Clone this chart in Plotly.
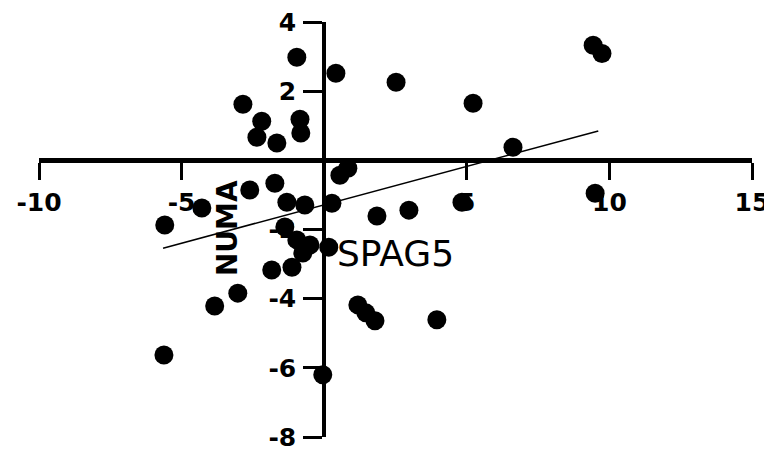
import plotly.graph_objects as go

# SPAG5 (x) vs NUMA (y) values
spag5 = [-0.96, 0.41, -2.85, -2.19, -0.85, -2.36, -1.66, -0.82, 2.52, 5.22,
         9.43, 9.74, 6.62, 4.83, 9.50, 2.97, 1.85, 0.83, 0.55, 0.27,
         -5.59, -4.29, -2.61, -1.73, -1.31, -0.68, -1.38, -0.96, -0.50, -0.75,
         0.16, -1.13, -1.84, -3.03, -3.84, -5.62, -0.05, 1.18, 1.46, 1.78, 3.95]
numa = [2.98, 2.52, 1.62, 1.13, 1.19, 0.67, 0.50, 0.79, 2.26, 1.65,
        3.33, 3.09, 0.38, -1.21, -0.95, -1.44, -1.61, -0.23, -0.43, -1.24,
        -1.87, -1.38, -0.86, -0.66, -1.21, -1.29, -1.93, -2.30, -2.45, -2.68,
        -2.51, -3.09, -3.17, -3.84, -4.21, -5.63, -6.20, -4.18, -4.41, -4.64, -4.61]

# regression line end points
fit_x = [-5.65, 9.61]
fit_y = [-2.54, 0.85]

x_ticks = [-10, -5, 5, 10, 15]
y_ticks = [-8, -6, -4, -2, 2, 4]
x_range = [-10, 15]
y_range = [-8, 4]

fig = go.Figure()
fig.add_trace(go.Scatter(x=fit_x, y=fit_y, mode="lines",
                         line=dict(color="black", width=1.5), showlegend=False))
fig.add_trace(go.Scatter(x=spag5, y=numa, mode="markers",
                         marker=dict(color="black", size=19), showlegend=False))

tick_font = dict(family="DejaVu Sans", size=25, color="black", weight="bold")

fig.update_layout(
    width=772, height=449,
    margin=dict(l=31, r=28, t=14, b=20),
    paper_bgcolor="white", plot_bgcolor="white",
    xaxis=dict(range=x_range, tickvals=x_ticks, ticktext=[str(v) for v in x_ticks],
               anchor="free", position=(0 - y_range[0]) / (y_range[1] - y_range[0]),
               showgrid=False, zeroline=False, showline=True, linewidth=5,
               linecolor="black", ticks="outside", ticklen=17, tickwidth=3,
               tickcolor="black", tickfont=tick_font, ticklabelstandoff=1,
               ticklabeloverflow="allow",
               layer="below traces", automargin=False),
    yaxis=dict(range=y_range, tickvals=y_ticks, ticktext=[str(v) for v in y_ticks],
               anchor="free", position=(0 - x_range[0]) / (x_range[1] - x_range[0]),
               showgrid=False, zeroline=False, showline=True, linewidth=4,
               linecolor="black", ticks="outside", ticklen=19, tickwidth=3,
               tickcolor="black", tickfont=tick_font, ticklabelstandoff=2,
               ticklabeloverflow="allow",
               layer="below traces", automargin=False),
    annotations=[
        dict(x=-3.41, y=-1.96, xref="x", yref="y", text="NUMA", textangle=-90,
             showarrow=False,
             font=dict(family="DejaVu Sans", size=28, color="black", weight="bold")),
        dict(x=2.49, y=-2.69, xref="x", yref="y", text="SPAG5", showarrow=False,
             font=dict(family="DejaVu Sans", size=36, color="black")),
    ],
)

fig.write_html("out.html")
